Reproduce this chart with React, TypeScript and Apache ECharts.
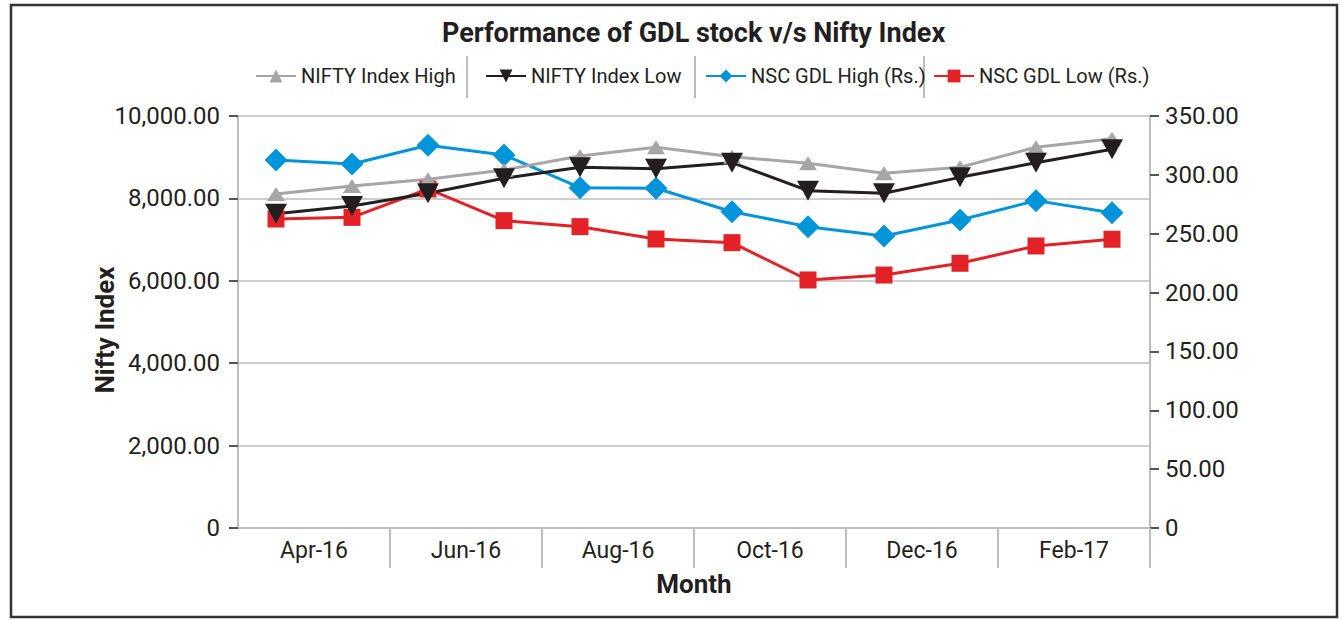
import React, { useEffect, useRef } from "react";
import * as echarts from "echarts";

const months = ["Apr-16", "May-16", "Jun-16", "Jul-16", "Aug-16", "Sep-16", "Oct-16", "Nov-16", "Dec-16", "Jan-17", "Feb-17", "Mar-17"];
const tickLabels = ["Apr-16", "Jun-16", "Aug-16", "Oct-16", "Dec-16", "Feb-17"];
const niftyHigh = [8107, 8300, 8463, 8689, 9029, 9240, 9013, 8851, 8609, 8755, 9240, 9450];
const niftyLow = [7630, 7816, 8123, 8487, 8754, 8722, 8867, 8188, 8123, 8511, 8867, 9191];
const gdlHigh = [312.6, 309.2, 325.1, 316.9, 289.1, 288.6, 268.7, 256.0, 248.1, 261.7, 278.1, 267.9];
const gdlLow = [262.5, 263.9, 288.0, 261.1, 256.0, 245.5, 242.4, 210.7, 214.9, 224.9, 239.6, 245.3];

const FONT = "Roboto";
const TXT = "#231f20";

function fmt(v: number) {
  if (v === 0) return "0";
  return v.toLocaleString("en-US", { minimumFractionDigits: 2, maximumFractionDigits: 2 });
}

export default function App() {
  const ref = useRef<HTMLDivElement>(null);
  useEffect(() => {
    if (!ref.current) return;
    const chart = echarts.init(ref.current, null, { renderer: "svg" });
    const legendBase = {
      top: 66,
      padding: 0,
      itemWidth: 40,
      itemHeight: 16,
      itemGap: 0,
      textStyle: { fontFamily: FONT, fontSize: 20, color: TXT },
    };
    chart.setOption({
      animation: false,
      backgroundColor: "#ffffff",
      title: {
        text: "Performance of GDL stock v/s Nifty Index",
        left: 442,
        top: 19,
        padding: 0,
        textStyle: { fontFamily: FONT, fontSize: 27, fontWeight: "bold", color: TXT },
      },
      legend: [
        { ...legendBase, left: 255, data: ["NIFTY Index High"] },
        { ...legendBase, left: 485, data: ["NIFTY Index Low"] },
        { ...legendBase, left: 705, data: ["NSC GDL High (Rs.)"] },
        { ...legendBase, left: 933, data: ["NSC GDL Low (Rs.)"] },
      ],
      grid: { left: 238, right: 192, top: 116, bottom: 92, containLabel: false },
      xAxis: [
        {
          type: "category",
          data: months,
          boundaryGap: true,
          show: false,
        },
        {
          type: "category",
          data: tickLabels,
          boundaryGap: true,
          position: "bottom",
          name: "Month",
          nameLocation: "middle",
          nameGap: 43,
          nameMoveOverlap: false,
          nameTextStyle: { fontFamily: FONT, fontSize: 26, fontWeight: "bold", color: TXT },
          axisLine: { show: true, lineStyle: { color: "#bdbdbd", width: 2 } },
          axisTick: {
            show: true,
            length: 40,
            interval: (i: number) => i > 0,
            lineStyle: { color: "#bdbdbd", width: 2 },
          },
          axisLabel: { margin: 11, fontFamily: FONT, fontSize: 23, color: TXT },
          splitLine: { show: false },
        },
      ],
      yAxis: [
        {
          type: "value",
          min: 0,
          max: 10000,
          interval: 2000,
          position: "left",
          name: "Nifty Index",
          nameLocation: "middle",
          nameGap: 120,
          nameMoveOverlap: false,
          nameTextStyle: { fontFamily: FONT, fontSize: 26, fontWeight: "bold", color: TXT, padding: [0, 16, 0, 0] },
          axisLine: { show: true, lineStyle: { color: "#bdbdbd", width: 2 } },
          axisTick: { show: true, length: 9, lineStyle: { color: "#555555", width: 2 } },
          axisLabel: { margin: 18, fontFamily: FONT, fontSize: 24, color: TXT, formatter: fmt },
          splitLine: { show: true, lineStyle: { color: "#bdbdbd", width: 1.5 } },
        },
        {
          type: "value",
          min: 0,
          max: 350,
          interval: 50,
          position: "right",
          axisLine: { show: true, lineStyle: { color: "#bdbdbd", width: 2 } },
          axisTick: { show: true, length: 9, lineStyle: { color: "#555555", width: 2 } },
          axisLabel: { margin: 15, fontFamily: FONT, fontSize: 24, color: TXT, formatter: fmt },
          splitLine: { show: false },
        },
      ],
      series: [
        {
          name: "NSC GDL High (Rs.)",
          type: "line",
          xAxisIndex: 0,
          yAxisIndex: 1,
          data: gdlHigh,
          symbol: "diamond",
          symbolSize: 23,
          itemStyle: { color: "#0095da" },
          lineStyle: { color: "#0095da", width: 3 },
        },
        {
          name: "NSC GDL Low (Rs.)",
          type: "line",
          xAxisIndex: 0,
          yAxisIndex: 1,
          data: gdlLow,
          symbol: "rect",
          symbolSize: 17,
          itemStyle: { color: "#e32227" },
          lineStyle: { color: "#e32227", width: 3 },
        },
        {
          name: "NIFTY Index High",
          type: "line",
          xAxisIndex: 0,
          yAxisIndex: 0,
          data: niftyHigh,
          symbol: "triangle",
          symbolSize: [18, 14],
          itemStyle: { color: "#a6a6a6" },
          lineStyle: { color: "#a6a6a6", width: 3 },
        },
        {
          name: "NIFTY Index Low",
          type: "line",
          xAxisIndex: 0,
          yAxisIndex: 0,
          data: niftyLow,
          symbol: "triangle",
          symbolRotate: 180,
          symbolSize: [22, 20],
          itemStyle: { color: "#231f20" },
          lineStyle: { color: "#231f20", width: 3 },
        },
      ],
      graphic: [
        {
          type: "rect",
          shape: { x: 11, y: 5, width: 1326, height: 612 },
          style: { fill: "none", stroke: "#333333", lineWidth: 2.5 },
          silent: true,
        },
        { type: "line", shape: { x1: 467, y1: 56, x2: 467, y2: 98 }, style: { stroke: "#bdbdbd", lineWidth: 2 } },
        { type: "line", shape: { x1: 695, y1: 56, x2: 695, y2: 98 }, style: { stroke: "#bdbdbd", lineWidth: 2 } },
        { type: "line", shape: { x1: 924, y1: 56, x2: 924, y2: 98 }, style: { stroke: "#bdbdbd", lineWidth: 2 } },
      ],
    });
    return () => chart.dispose();
  }, []);
  return (
    <div
      ref={ref}
      style={{ position: "fixed", left: 0, top: 0, width: 1342, height: 620 }}
    />
  );
}
